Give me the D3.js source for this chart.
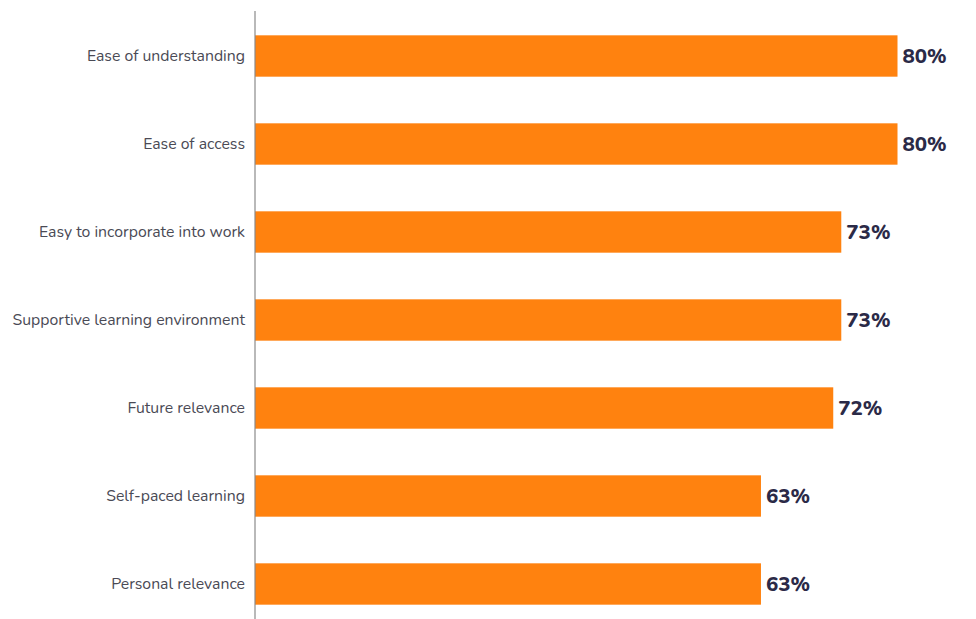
<!DOCTYPE html>
<html><head><meta charset="utf-8">
<script src="https://cdn.jsdelivr.net/npm/d3@7"></script>
<style>body{margin:0;background:#fff;} svg{display:block;}</style>
</head><body>
<svg id="c" width="976" height="619"></svg>
<script>
const categories = ["Ease of understanding","Ease of access","Easy to incorporate into work","Supportive learning environment","Future relevance","Self-paced learning","Personal relevance"];
const values = [80,80,73,73,72,63,63];

(function(){
const svg = d3.select("#c");
const mLeft = 255, mTop = 12, mBottom = 619;
const x = d3.scaleLinear().domain([0,80]).range([mLeft, 897.5]);
const y = d3.scaleBand().domain(categories).range([mTop, 628]).paddingInner(0.53).paddingOuter(0.265);

svg.selectAll("rect.bar").data(values).enter().append("rect")
  .attr("class","bar")
  .attr("x", x(0))
  .attr("y", (d,i)=>y(categories[i]))
  .attr("width", d=>x(d)-x(0))
  .attr("height", y.bandwidth())
  .attr("fill","#FF820F");

svg.selectAll("text.val").data(values).enter().append("text")
  .attr("class","val")
  .attr("x", d=>x(d)+5)
  .attr("y", (d,i)=>y(categories[i])+y.bandwidth()/2)
  .attr("dy","0.36em")
  .attr("font-family","Nunito, 'Open Sans', sans-serif")
  .attr("font-weight","800")
  .attr("font-size","20.5px")
  .attr("fill","#2b2a47")
  .text(d=>d+"%");

const axis = d3.axisLeft(y).tickSize(0).tickPadding(10);
const g = svg.append("g").attr("transform",`translate(${mLeft},0)`).call(axis);
g.select(".domain").remove();
g.selectAll("text").attr("font-family","Nunito, 'Open Sans', sans-serif").attr("font-size","15.8px").attr("fill","#4a4a55");
svg.append("line").attr("x1",mLeft).attr("x2",mLeft).attr("y1",11).attr("y2",mBottom).attr("stroke","#8a8a8a").attr("stroke-width",1.2);
})();
</script>
</body></html>
